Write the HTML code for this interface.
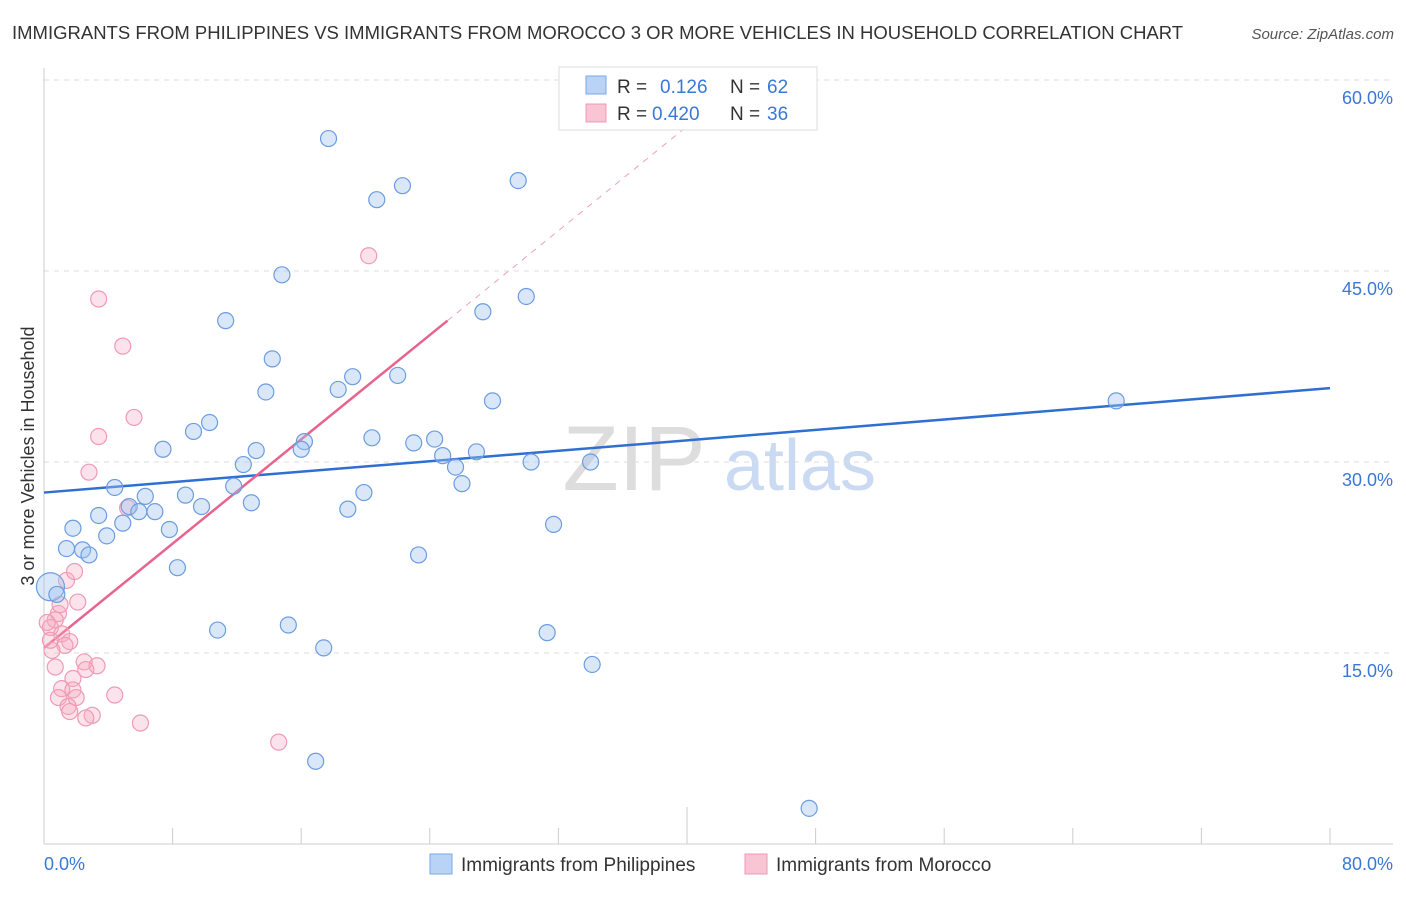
<!DOCTYPE html>
<html><head><meta charset="utf-8"><style>
body{margin:0;background:#fff;font-family:"Liberation Sans",sans-serif;}
svg text{font-family:"Liberation Sans",sans-serif;}
</style></head><body>
<svg id="chart" width="1406" height="892">
<text x="12" y="39" font-size="18.5" fill="#333">IMMIGRANTS FROM PHILIPPINES VS IMMIGRANTS FROM MOROCCO 3 OR MORE VEHICLES IN HOUSEHOLD CORRELATION CHART</text>
<text x="1394" y="39" font-size="15" fill="#555" font-style="italic" text-anchor="end">Source: ZipAtlas.com</text>
<text x="634" y="490" font-size="92" fill="#ddd" font-family="Liberation Serif" text-anchor="middle">ZIP</text>
<text x="800" y="490" font-size="72" fill="#c9daf2" text-anchor="middle">atlas</text>
<text transform="translate(34,456) rotate(-90)" font-size="18" fill="#333" text-anchor="middle">3 or more Vehicles in Household</text>
<g id="grid"></g><g id="axes"></g><g id="lines"></g><g id="pts"></g>
<g>
<rect x="559" y="67" width="258" height="63" fill="#fff" stroke="#ddd"/>
<rect x="586" y="76" width="20" height="18" fill="#b8d3f5" stroke="#7aa7e3"/>
<text x="617" y="93" font-size="19" fill="#333">R =</text><text x="660" y="93" font-size="19" fill="#3a78d6">0.126</text>
<text x="730" y="93" font-size="19" fill="#333">N =</text><text x="767" y="93" font-size="19" fill="#3a78d6">62</text>
<rect x="586" y="104" width="20" height="18" fill="#f9c4d4" stroke="#f09ab5"/>
<text x="617" y="120" font-size="19" fill="#333">R =</text><text x="652" y="120" font-size="19" fill="#3a78d6">0.420</text>
<text x="730" y="120" font-size="19" fill="#333">N =</text><text x="767" y="120" font-size="19" fill="#3a78d6">36</text>
</g>
<g>
<rect x="430" y="854" width="22" height="20" fill="#b8d3f5" stroke="#7aa7e3"/>
<text x="461" y="871" font-size="19" fill="#333">Immigrants from Philippines</text>
<rect x="745" y="854" width="22" height="20" fill="#f9c4d4" stroke="#f09ab5"/>
<text x="776" y="871" font-size="19" fill="#333">Immigrants from Morocco</text>
</g>
</svg>
<script>
const xTicks=[0,80];
const yTicks=[15,30,45,60];
const blueX=[17.7,22.3,20.7,29.5,14.8,30.0,27.3,11.3,14.2,13.8,19.2,22.0,18.3,27.9,66.7,10.3,9.3,7.4,13.2,16.2,16.0,20.4,23.0,24.3,24.8,26.9,25.6,30.3,34.0,26.0,12.4,11.8,4.4,6.3,8.8,19.9,12.9,5.3,5.9,6.9,9.8,18.9,3.4,4.9,1.8,7.8,3.9,31.7,1.4,2.4,2.8,23.3,8.3,0.4,0.8,10.8,15.2,31.3,17.4,34.1,16.9,47.6];
const blueY=[55.4,51.7,50.6,52.1,44.7,43.0,41.8,41.1,38.1,35.5,36.7,36.8,35.7,34.8,34.8,33.1,32.4,31.0,30.9,31.6,31.0,31.9,31.5,31.8,30.5,30.8,29.6,30.0,30.0,28.3,29.8,28.1,28.0,27.3,27.4,27.6,26.8,26.5,26.1,26.1,26.5,26.3,25.8,25.2,24.8,24.7,24.2,25.1,23.2,23.1,22.7,22.7,21.7,20.2,19.6,16.8,17.2,16.6,15.4,14.1,6.5,2.8];
const pinkX=[20.2,3.4,4.9,5.6,3.4,2.8,5.2,1.4,1.9,2.1,0.9,0.7,0.4,1.1,1.6,1.3,0.5,0.7,2.5,3.3,2.6,1.8,1.1,1.8,2.0,0.9,4.4,1.5,1.6,3.0,2.6,6.0,14.6,0.2,0.4,1.0];
const pinkY=[46.2,42.8,39.1,33.5,32.0,29.2,26.4,20.7,21.4,19.0,18.1,17.6,17.0,16.5,15.9,15.6,15.2,13.9,14.3,14.0,13.7,13.0,12.2,12.1,11.5,11.5,11.7,10.8,10.4,10.1,9.9,9.5,8.0,17.4,16.0,18.8];
const blueTrend=[27.6,35.8]; // y at x=0 and x=80
const pinkTrend=[15.4,41.1,25.1]; // y at 0, y at solid end, solid end x
const X=v=>44+v/80*1286, Y=v=>844-v/15*191;
const NS='http://www.w3.org/2000/svg';
function mk(p,t,a){const e=document.createElementNS(NS,t);for(const k in a)e.setAttribute(k,a[k]);document.getElementById(p).appendChild(e);return e;}
yTicks.forEach(t=>{
 const l=mk('grid','line',{x1:44,x2:1393,y1:Y(t),y2:Y(t),stroke:'#ddd','stroke-dasharray':'5,5'});
 
 
 const tx=mk('grid','text',{x:1393,y:Y(t)+24,'font-size':18,fill:'#3a78d6','text-anchor':'end'});tx.textContent=t.toFixed(1)+'%';
 
 
});
mk('axes','line',{x1:44,x2:44,y1:68,y2:844,stroke:'#ccc'});
mk('axes','line',{x1:44,x2:1393,y1:844,y2:844,stroke:'#ccc'});
for(let i=1;i<=10;i++){const x=44+i*128.6;const t=mk('axes','line',{x1:x,x2:x,y1:i==5?807:828,y2:844,stroke:'#ccc'});
 
 }
xTicks.forEach((t,i)=>{const tx=mk('axes','text',{x:i?1393:44,y:870,'font-size':18,fill:'#3a78d6','text-anchor':i?'end':'start'});tx.textContent=t.toFixed(1)+'%';
 
 });
const bl=mk('lines','line',{x1:X(0),y1:Y(blueTrend[0]),x2:X(80),y2:Y(blueTrend[1]),stroke:'#2f6fd2','stroke-width':2.5});


const sl=(pinkTrend[1]-pinkTrend[0])/pinkTrend[2];
const xe=(61-pinkTrend[0])/sl;
const pd=mk('lines','line',{x1:X(pinkTrend[2]),y1:Y(pinkTrend[1]),x2:X(xe),y2:Y(61),stroke:'#f0a0b8','stroke-width':1,'stroke-dasharray':'6,6'});


const pl=mk('lines','line',{x1:X(0),y1:Y(pinkTrend[0]),x2:X(pinkTrend[2]),y2:Y(pinkTrend[1]),stroke:'#e8648e','stroke-width':2.5});


pinkX.forEach((x,i)=>{const c=mk('pts','circle',{cx:X(x),cy:Y(pinkY[i]),r:8,fill:'rgba(246,172,196,0.35)',stroke:'#f09ab5','stroke-width':1.2});
 
 });
blueX.forEach((x,i)=>{const c=mk('pts','circle',{cx:X(x),cy:Y(blueY[i]),r:i==53?14:8,fill:'rgba(160,196,240,0.4)',stroke:'#6b9de0','stroke-width':1.2});
 
 });
</script>
</body></html>
